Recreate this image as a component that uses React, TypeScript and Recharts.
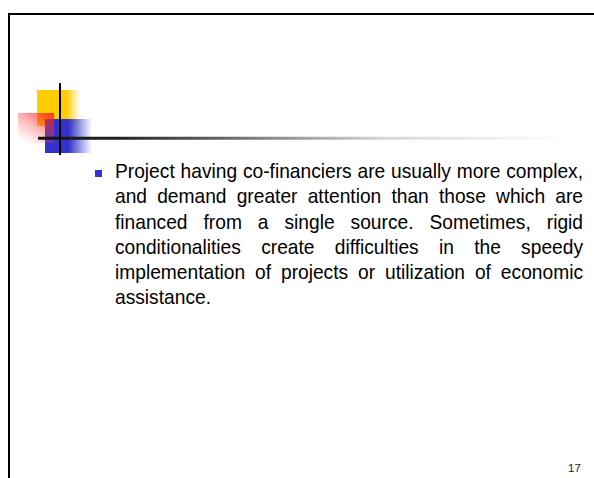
import React from 'react';
import { ComposedChart, XAxis, YAxis, ReferenceArea, ReferenceLine } from 'recharts';

// slide body text, one entry per rendered line
const bodyLines = [
  'Project having co-financiers are usually more complex,',
  'and demand greater attention than those which are',
  'financed from a single source. Sometimes, rigid',
  'conditionalities create difficulties in the speedy',
  'implementation of projects or utilization of economic',
  'assistance.',
];

const pageNumber = '17';

const W = 594;
const H = 478;

const Slide: React.FC = () => {
  return (
    <div
      style={{
        position: 'absolute',
        left: 0,
        top: 0,
        width: W,
        height: H,
        background: '#fff',
        overflow: 'hidden',
        fontFamily: '"Liberation Sans", Arial, sans-serif',
      }}
    >
      <div style={{ position: 'absolute', left: 0, top: 0 }}>
        <ComposedChart width={W} height={H} data={[]} margin={{ top: 0, right: 0, bottom: 0, left: 0 }}>
          <defs>
            <linearGradient id="yellowFade" x1="0" y1="0" x2="1" y2="0">
              <stop offset="0%" stopColor="#ffcc00" />
              <stop offset="68%" stopColor="#ffcc00" />
              <stop offset="100%" stopColor="#ffcc00" stopOpacity={0} />
            </linearGradient>
            <linearGradient id="blueFade" x1="0" y1="0" x2="1" y2="0">
              <stop offset="0%" stopColor="#3333cc" />
              <stop offset="50%" stopColor="#3333cc" />
              <stop offset="100%" stopColor="#3333cc" stopOpacity={0} />
            </linearGradient>
            <linearGradient id="redFade" x1="0.95" y1="0" x2="0.15" y2="1">
              <stop offset="0%" stopColor="#ff1a1a" stopOpacity={0.85} />
              <stop offset="45%" stopColor="#ff3333" stopOpacity={0.4} />
              <stop offset="100%" stopColor="#ff6666" stopOpacity={0} />
            </linearGradient>
            <linearGradient id="ruleFade" x1="0" y1="0" x2="1" y2="0">
              <stop offset="0%" stopColor="#111" />
              <stop offset="15%" stopColor="#222" />
              <stop offset="35%" stopColor="#666" />
              <stop offset="65%" stopColor="#d6d6d6" />
              <stop offset="100%" stopColor="#fff" />
            </linearGradient>
          </defs>
          <XAxis type="number" dataKey="x" domain={[0, W]} hide allowDataOverflow />
          <YAxis type="number" dataKey="y" domain={[0, H]} reversed hide allowDataOverflow />

          {/* slide frame */}
          <ReferenceLine segment={[{ x: 8, y: 14 }, { x: W, y: 14 }]} stroke="#000" strokeWidth={2} />
          <ReferenceLine segment={[{ x: 9, y: 13 }, { x: 9, y: H }]} stroke="#000" strokeWidth={2} />

          {/* corner decoration */}
          <ReferenceArea x1={37} x2={80} y1={90} y2={126} fill="url(#yellowFade)" fillOpacity={1} stroke="none" />
          <ReferenceArea x1={45} x2={92} y1={119} y2={153} fill="url(#blueFade)" fillOpacity={1} stroke="none" />
          <ReferenceArea x1={18} x2={54} y1={113} y2={143} fill="url(#redFade)" fillOpacity={1} stroke="none" />
          <ReferenceArea x1={38} x2={565} y1={136.8} y2={139.8} fill="url(#ruleFade)" fillOpacity={1} stroke="none" />
          <ReferenceLine segment={[{ x: 60, y: 83 }, { x: 60, y: 155 }]} stroke="#000" strokeWidth={2} />

          {/* bullet */}
          <ReferenceArea x1={95} x2={102} y1={170} y2={177} fill="#3333cc" fillOpacity={1} stroke="none" />
        </ComposedChart>
      </div>

      <div
        style={{
          position: 'absolute',
          left: 115,
          top: 158,
          width: 468,
          fontSize: 19.2,
          lineHeight: '23.3px',
          color: '#000',
          transform: 'scaleY(1.09)',
          transformOrigin: 'top left',
        }}
      >
        {bodyLines.map((line, i) => (
          <div
            key={i}
            style={{
              textAlign: 'justify',
              textAlignLast: i < bodyLines.length - 1 ? 'justify' : 'left',
            }}
          >
            {line}
          </div>
        ))}
      </div>

      <div
        style={{
          position: 'absolute',
          left: 568,
          top: 461.5,
          fontSize: 11.5,
          lineHeight: '12px',
          color: '#222',
        }}
      >
        {pageNumber}
      </div>
    </div>
  );
};

export default function App() {
  return <Slide />;
}
